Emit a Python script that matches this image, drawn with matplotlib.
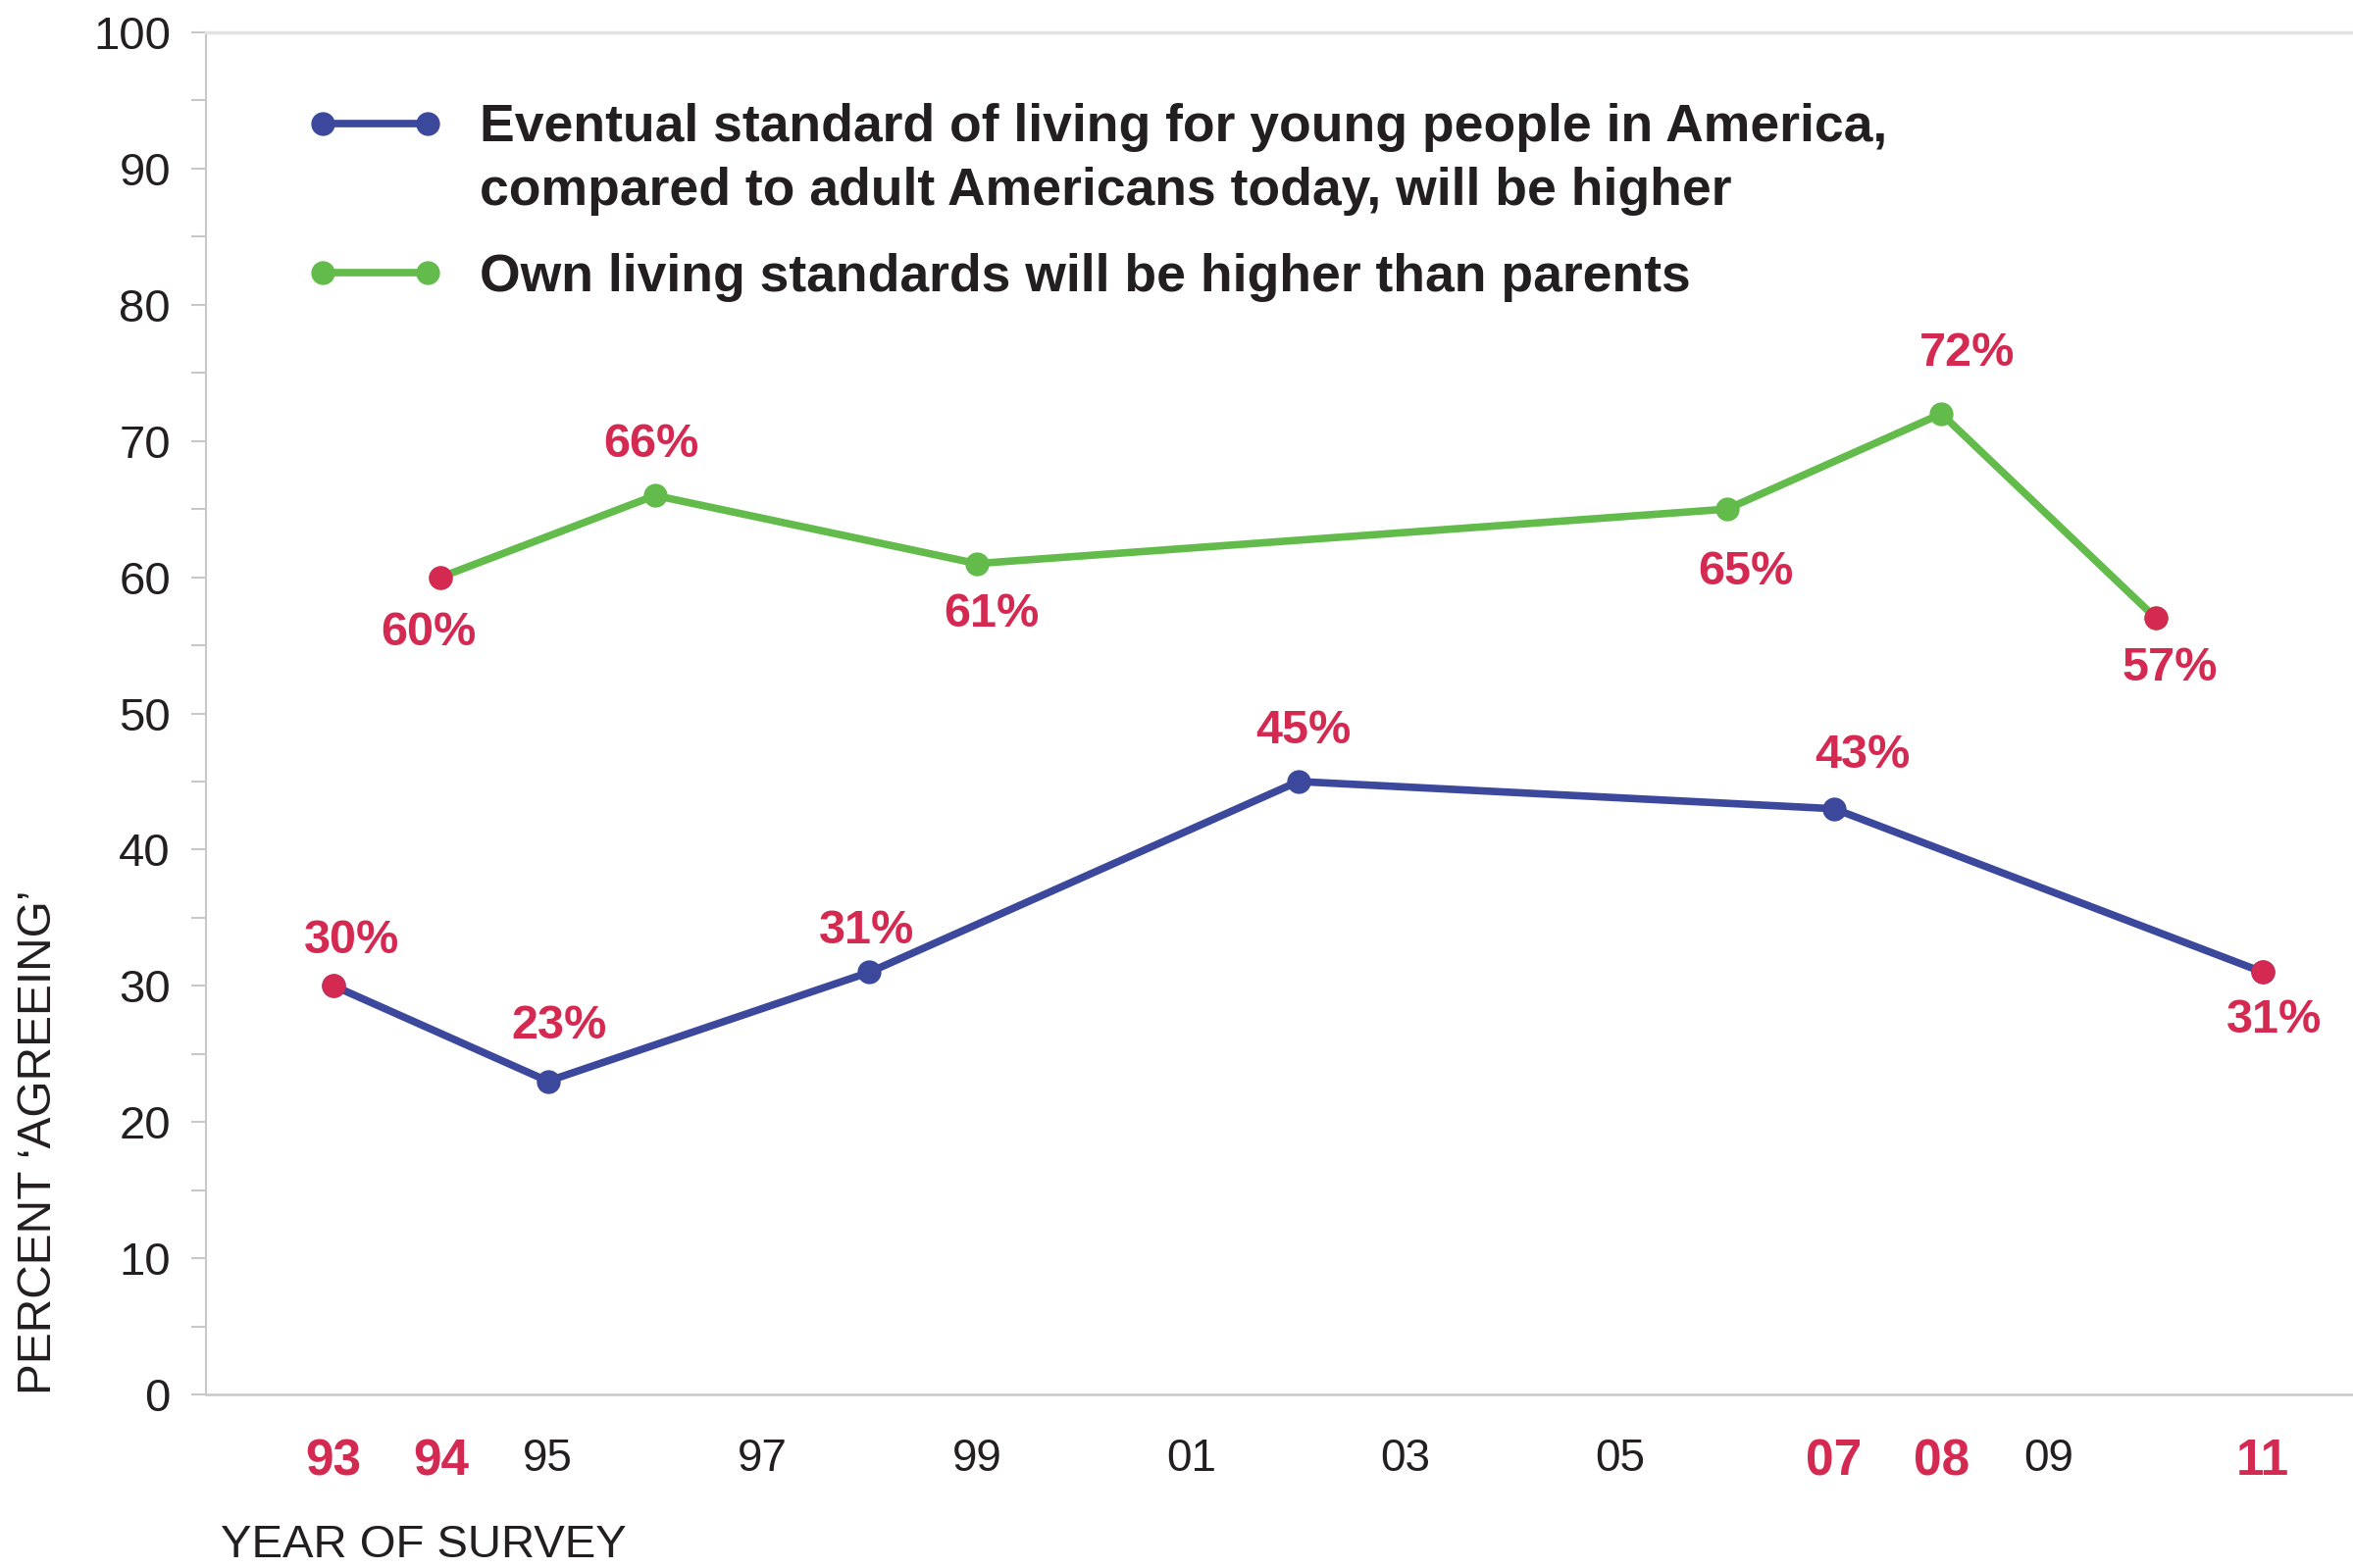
import matplotlib
matplotlib.use("Agg")
import matplotlib.pyplot as plt
from matplotlib.lines import Line2D
import numpy as np

# ---- data ----
blue_years = [1993, 1995, 1998, 2002, 2007, 2011]
blue_vals = [30, 23, 31, 45, 43, 31]
green_years = [1994, 1996, 1999, 2006, 2008, 2010]
green_vals = [60, 66, 61, 65, 72, 57]

tick_years = [1993, 1994, 1995, 1997, 1999, 2001, 2003, 2005, 2007, 2008, 2009, 2011]
tick_labels = ['93', '94', '95', '97', '99', '01', '03', '05', '07', '08', '09', '11']
highlight_labels = ['93', '94', '07', '08', '11']

blue_name_1 = "Eventual standard of living for young people in America,"
blue_name_2 = "compared to adult Americans today, will be higher"
green_name = "Own living standards will be higher than parents"

# ---- label offsets (points) ----
blue_offsets = [(13, 33), (8, 40), (-2, 30), (4, 37), (21, 39), (8, -35)]
green_offsets = [(-9, -41), (-3, 37), (11, -37), (14, -46), (19, 44), (10, -37)]

BLUE = '#3B489B'
GREEN = '#63BB4B'
RED = '#D42A52'
DARK = '#231F20'
GRAY = '#C8C8C8'

plt.rcParams['font.family'] = ['Liberation Sans', 'DejaVu Sans']

fig = plt.figure(figsize=(23.99, 15.99), dpi=100)
ax = fig.add_axes([0.08754, 0.11069, 0.91246, 0.86867])

ax.set_xlim(1991.81, 2011.84)
ax.set_ylim(0, 100)

lw = 5.5
ms = 16.5
ax.plot(blue_years, blue_vals, color=BLUE, lw=lw, marker='o', ms=ms, zorder=3)
ax.plot(green_years, green_vals, color=GREEN, lw=lw, marker='o', ms=ms, zorder=3)
# endpoints highlighted
for xs, ys in ((blue_years, blue_vals), (green_years, green_vals)):
    ax.plot([xs[0], xs[-1]], [ys[0], ys[-1]], linestyle='none', marker='o',
            ms=ms, color=RED, zorder=4)

for xs, ys, offs in ((blue_years, blue_vals, blue_offsets),
                     (green_years, green_vals, green_offsets)):
    for x, y, (dx, dy) in zip(xs, ys, offs):
        ax.annotate(f"{y}%", (x, y), xytext=(dx, dy), textcoords='offset points',
                    ha='center', va='center', fontsize=35, fontweight='bold',
                    color=RED)

# axes styling
ax.spines['right'].set_visible(False)
ax.spines['left'].set_color(GRAY)
ax.spines['left'].set_linewidth(1.5)
ax.spines['bottom'].set_color(GRAY)
ax.spines['bottom'].set_linewidth(1.8)
ax.spines['top'].set_color('#E2E2E2')
ax.spines['top'].set_linewidth(2.5)

ax.set_yticks(np.arange(0, 101, 10))
ax.set_yticks(np.arange(5, 100, 10), minor=True)
ax.tick_params(axis='y', which='both', length=11, width=1.5, color=GRAY,
               labelsize=34, labelcolor=DARK, pad=15)
ax.set_xticks(tick_years)
ax.set_xticklabels(tick_labels)
ax.tick_params(axis='x', length=0, labelsize=33, labelcolor=DARK, pad=32)
for lab in ax.get_xticklabels():
    if lab.get_text() in highlight_labels:
        lab.set_color(RED)
        lab.set_fontweight('bold')
        lab.set_fontsize(37)

ax.text(-0.0777, 0.0, "PERCENT \u2018AGREEING\u2019", transform=ax.transAxes,
        rotation=90, rotation_mode='anchor', ha='left', va='center',
        fontsize=34.5, color=DARK)
ax.text(0.0069, -0.111, "YEAR OF SURVEY", transform=ax.transAxes,
        ha='left', va='center', fontsize=34, color=DARK)

# legends
hb = Line2D([], [], color=BLUE, lw=lw, marker='o', ms=ms)
hnone = Line2D([], [], color='none', lw=0)
hg = Line2D([], [], color=GREEN, lw=lw, marker='o', ms=ms)
fs = 38.5
leg_kw = dict(loc='upper left', frameon=False, numpoints=2, borderpad=0,
              borderaxespad=0, handlelength=2.6, handletextpad=0.7,
              prop={'size': fs, 'weight': 'bold'}, labelcolor=DARK)
leg1 = ax.legend([hb, hnone], [blue_name_1, blue_name_2],
                 bbox_to_anchor=(0.047, 0.948), labelspacing=0.27, **leg_kw)
ax.add_artist(leg1)
leg2 = ax.legend([hg], [green_name], bbox_to_anchor=(0.047, 0.838), **leg_kw)

fig.savefig("out.png", dpi=100)
